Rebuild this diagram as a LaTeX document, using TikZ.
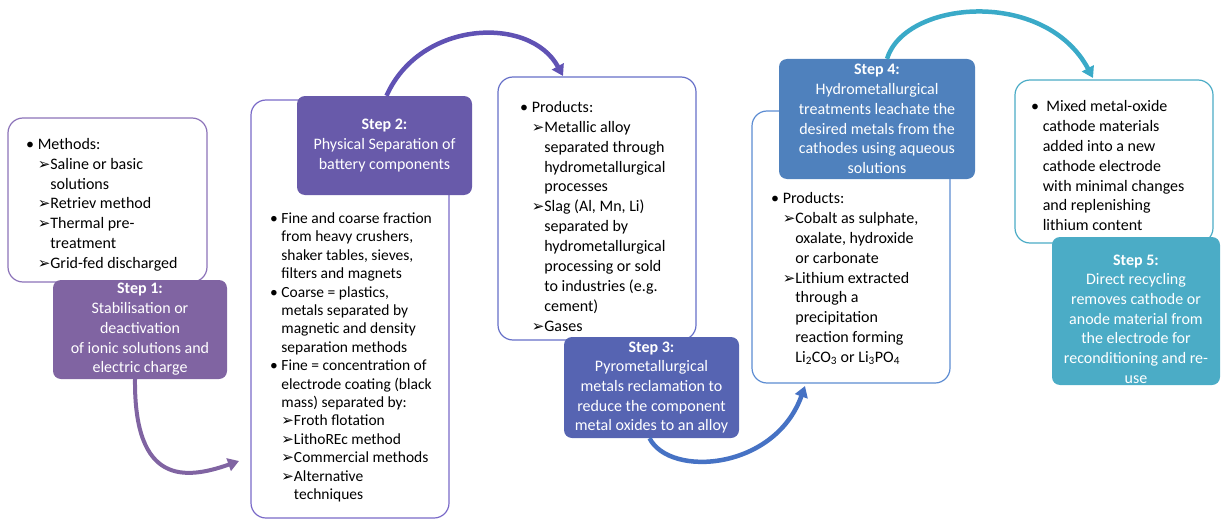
\documentclass[tikz,border=0pt]{standalone}
\usepackage{fontspec}
\setmainfont{Carlito}
\newfontfamily\symb{DejaVu Sans}
\usetikzlibrary{positioning,calc,arrows,arrows.meta}

\definecolor{stepone}{RGB}{128,100,162}
\definecolor{steptwo}{RGB}{104,90,170}
\definecolor{stepthree}{RGB}{86,100,178}
\definecolor{stepfour}{RGB}{79,129,189}
\definecolor{stepfive}{RGB}{75,172,198}
\definecolor{lineone}{RGB}{140,115,185}
\definecolor{linetwo}{RGB}{122,106,200}
\definecolor{linethree}{RGB}{102,112,200}
\definecolor{linefour}{RGB}{92,140,210}
\definecolor{linefive}{RGB}{75,172,198}
\definecolor{arrowtwo}{RGB}{96,82,180}
\definecolor{arrowthree}{RGB}{70,114,196}
\definecolor{arrowfour}{RGB}{58,170,200}

\newcommand{\arw}{{\symb\fontsize{15}{15}\selectfont ➢}}
\newcommand{\ind}{\phantom{\arw}}
\newcommand{\bul}{\textbullet\ }
\newcommand{\bind}{\phantom{\bul}}

\tikzset{
	infobox/.style={draw, rounded corners=15pt, line width=1.2pt, fill=white},
	stepbox/.style={rounded corners=8pt, text=white, align=center, inner sep=0pt, font=\fontsize{16}{19.7}\selectfont},
	listtext/.style={align=left, inner sep=0pt, anchor=north west, font=\fontsize{16}{19.7}\selectfont},
	flow/.style={-{Triangle[length=11pt,width=13pt]}, line width=4.5pt},
}

\begin{document}
\begin{tikzpicture}[x=1pt, y=-1pt]
	\useasboundingbox (0,0) rectangle (1221,519);
	
	\node[infobox, draw=lineone, minimum width=199, minimum height=164] (b1) at (107.5,200) {};
	\node[infobox, draw=linetwo, minimum width=198, minimum height=418] (b2) at (350,309) {};
	\node[infobox, draw=linethree, minimum width=198, minimum height=263] (b3) at (597,208.5) {};
	\node[infobox, draw=linefour, minimum width=198, minimum height=272] (b4) at (851,247) {};
	\node[infobox, draw=linefive, minimum width=198, minimum height=163] (b5) at (1114,161.5) {};
	
	\node[listtext] (t1) at (26,138.5) {\bul Methods:\\
		\bind\arw Saline or basic\\
		\bind\ind solutions\\
		\bind\arw Retriev method\\
		\bind\arw Thermal pre-\\
		\bind\ind treatment\\
		\bind\arw Grid-fed discharged};
	\node[listtext, font=\fontsize{15.5}{18.4}\selectfont] (t2) at (270,212.5) {\bul Fine and coarse fraction\\
		\bind from heavy crushers,\\
		\bind shaker tables, sieves,\\
		\bind filters and magnets\\
		\bul Coarse = plastics,\\
		\bind metals separated by\\
		\bind magnetic and density\\
		\bind separation methods\\
		\bul Fine = concentration of\\
		\bind electrode coating (black\\
		\bind mass) separated by:\\
		\bind\arw Froth flotation\\
		\bind\arw LithoREc method\\
		\bind\arw Commercial methods\\
		\bind\arw Alternative\\
		\bind\ind techniques};
	\node[listtext, font=\fontsize{16}{19.9}\selectfont] (t3) at (520,101) {\bul Products:\\
		\bind\arw Metallic alloy\\
		\bind\ind separated through\\
		\bind\ind hydrometallurgical\\
		\bind\ind processes\\
		\bind\arw Slag (Al, Mn, Li)\\
		\bind\ind separated by\\
		\bind\ind hydrometallurgical\\
		\bind\ind processing or sold\\
		\bind\ind to industries (e.g.\\
		\bind\ind cement)\\
		\bind\arw Gases};
	\node[listtext, font=\fontsize{16}{19.8}\selectfont] (t4) at (771,192.5) {\bul Products:\\
		\bind\arw Cobalt as sulphate,\\
		\bind\ind oxalate, hydroxide\\
		\bind\ind or carbonate\\
		\bind\arw Lithium extracted\\
		\bind\ind through a\\
		\bind\ind precipitation\\
		\bind\ind reaction forming\\
		\bind\ind Li\textsubscript{2}CO\textsubscript{3} or Li\textsubscript{3}PO\textsubscript{4}};
	\node[listtext, font=\fontsize{16}{19.8}\selectfont] (t5) at (1031,100.5) {\bul\ Mixed metal-oxide\\
		\bind cathode materials\\
		\bind added into a new\\
		\bind cathode electrode\\
		\bind with minimal changes\\
		\bind and replenishing\\
		\bind lithium content};
	
	\node[stepbox, fill=stepone, minimum width=174, minimum height=99] (s1) at (140,329.5) {\textbf{Step 1:}\\Stabilisation or\\deactivation\\of ionic solutions and\\electric charge};
	\node[stepbox, fill=steptwo, minimum width=175, minimum height=99] (s2) at (384.5,145.5) {\textbf{Step 2:}\\Physical Separation of\\battery components};
	\node[stepbox, fill=stepthree, minimum width=175, minimum height=101] (s3) at (651.5,387.5) {\textbf{Step 3:}\\Pyrometallurgical\\metals reclamation to\\reduce the component\\metal oxides to an alloy};
	\node[stepbox, fill=stepfour, minimum width=196, minimum height=120] (s4) at (877,119) {\textbf{Step 4:}\\Hydrometallurgical\\treatments leachate the\\desired metals from the\\cathodes using aqueous\\solutions};
	\node[stepbox, fill=stepfive, minimum width=168, minimum height=148] (s5) at (1136,311) {};
	\node[stepbox] (s5t) at ([yshift=-8pt]s5.center) {\textbf{Step 5:}\\Direct recycling\\removes cathode or\\anode material from\\the electrode for\\reconditioning and re-\\use};
	
	\coordinate (e1) at (239,461);
	\coordinate (e2) at (563,76);
	\coordinate (e3) at (805,386);
	\coordinate (e4) at (1093,78);
	
	\draw[flow, line width=4pt, draw=stepone] ([xshift=-5pt]s1.south) .. controls (134,485) and (185,480) .. (e1);
	\draw[flow, draw=arrowtwo] ([xshift=2pt]s2.north) .. controls (420,20) and (530,15) .. (e2);
	\draw[flow, draw=arrowthree] ([xshift=-2pt]s3.south) .. controls (670,478) and (775,470) .. (e3);
	\draw[flow, draw=arrowfour] ([xshift=10pt]s4.north) .. controls (905,0) and (1045,-12) .. (e4);
\end{tikzpicture}
\end{document}
